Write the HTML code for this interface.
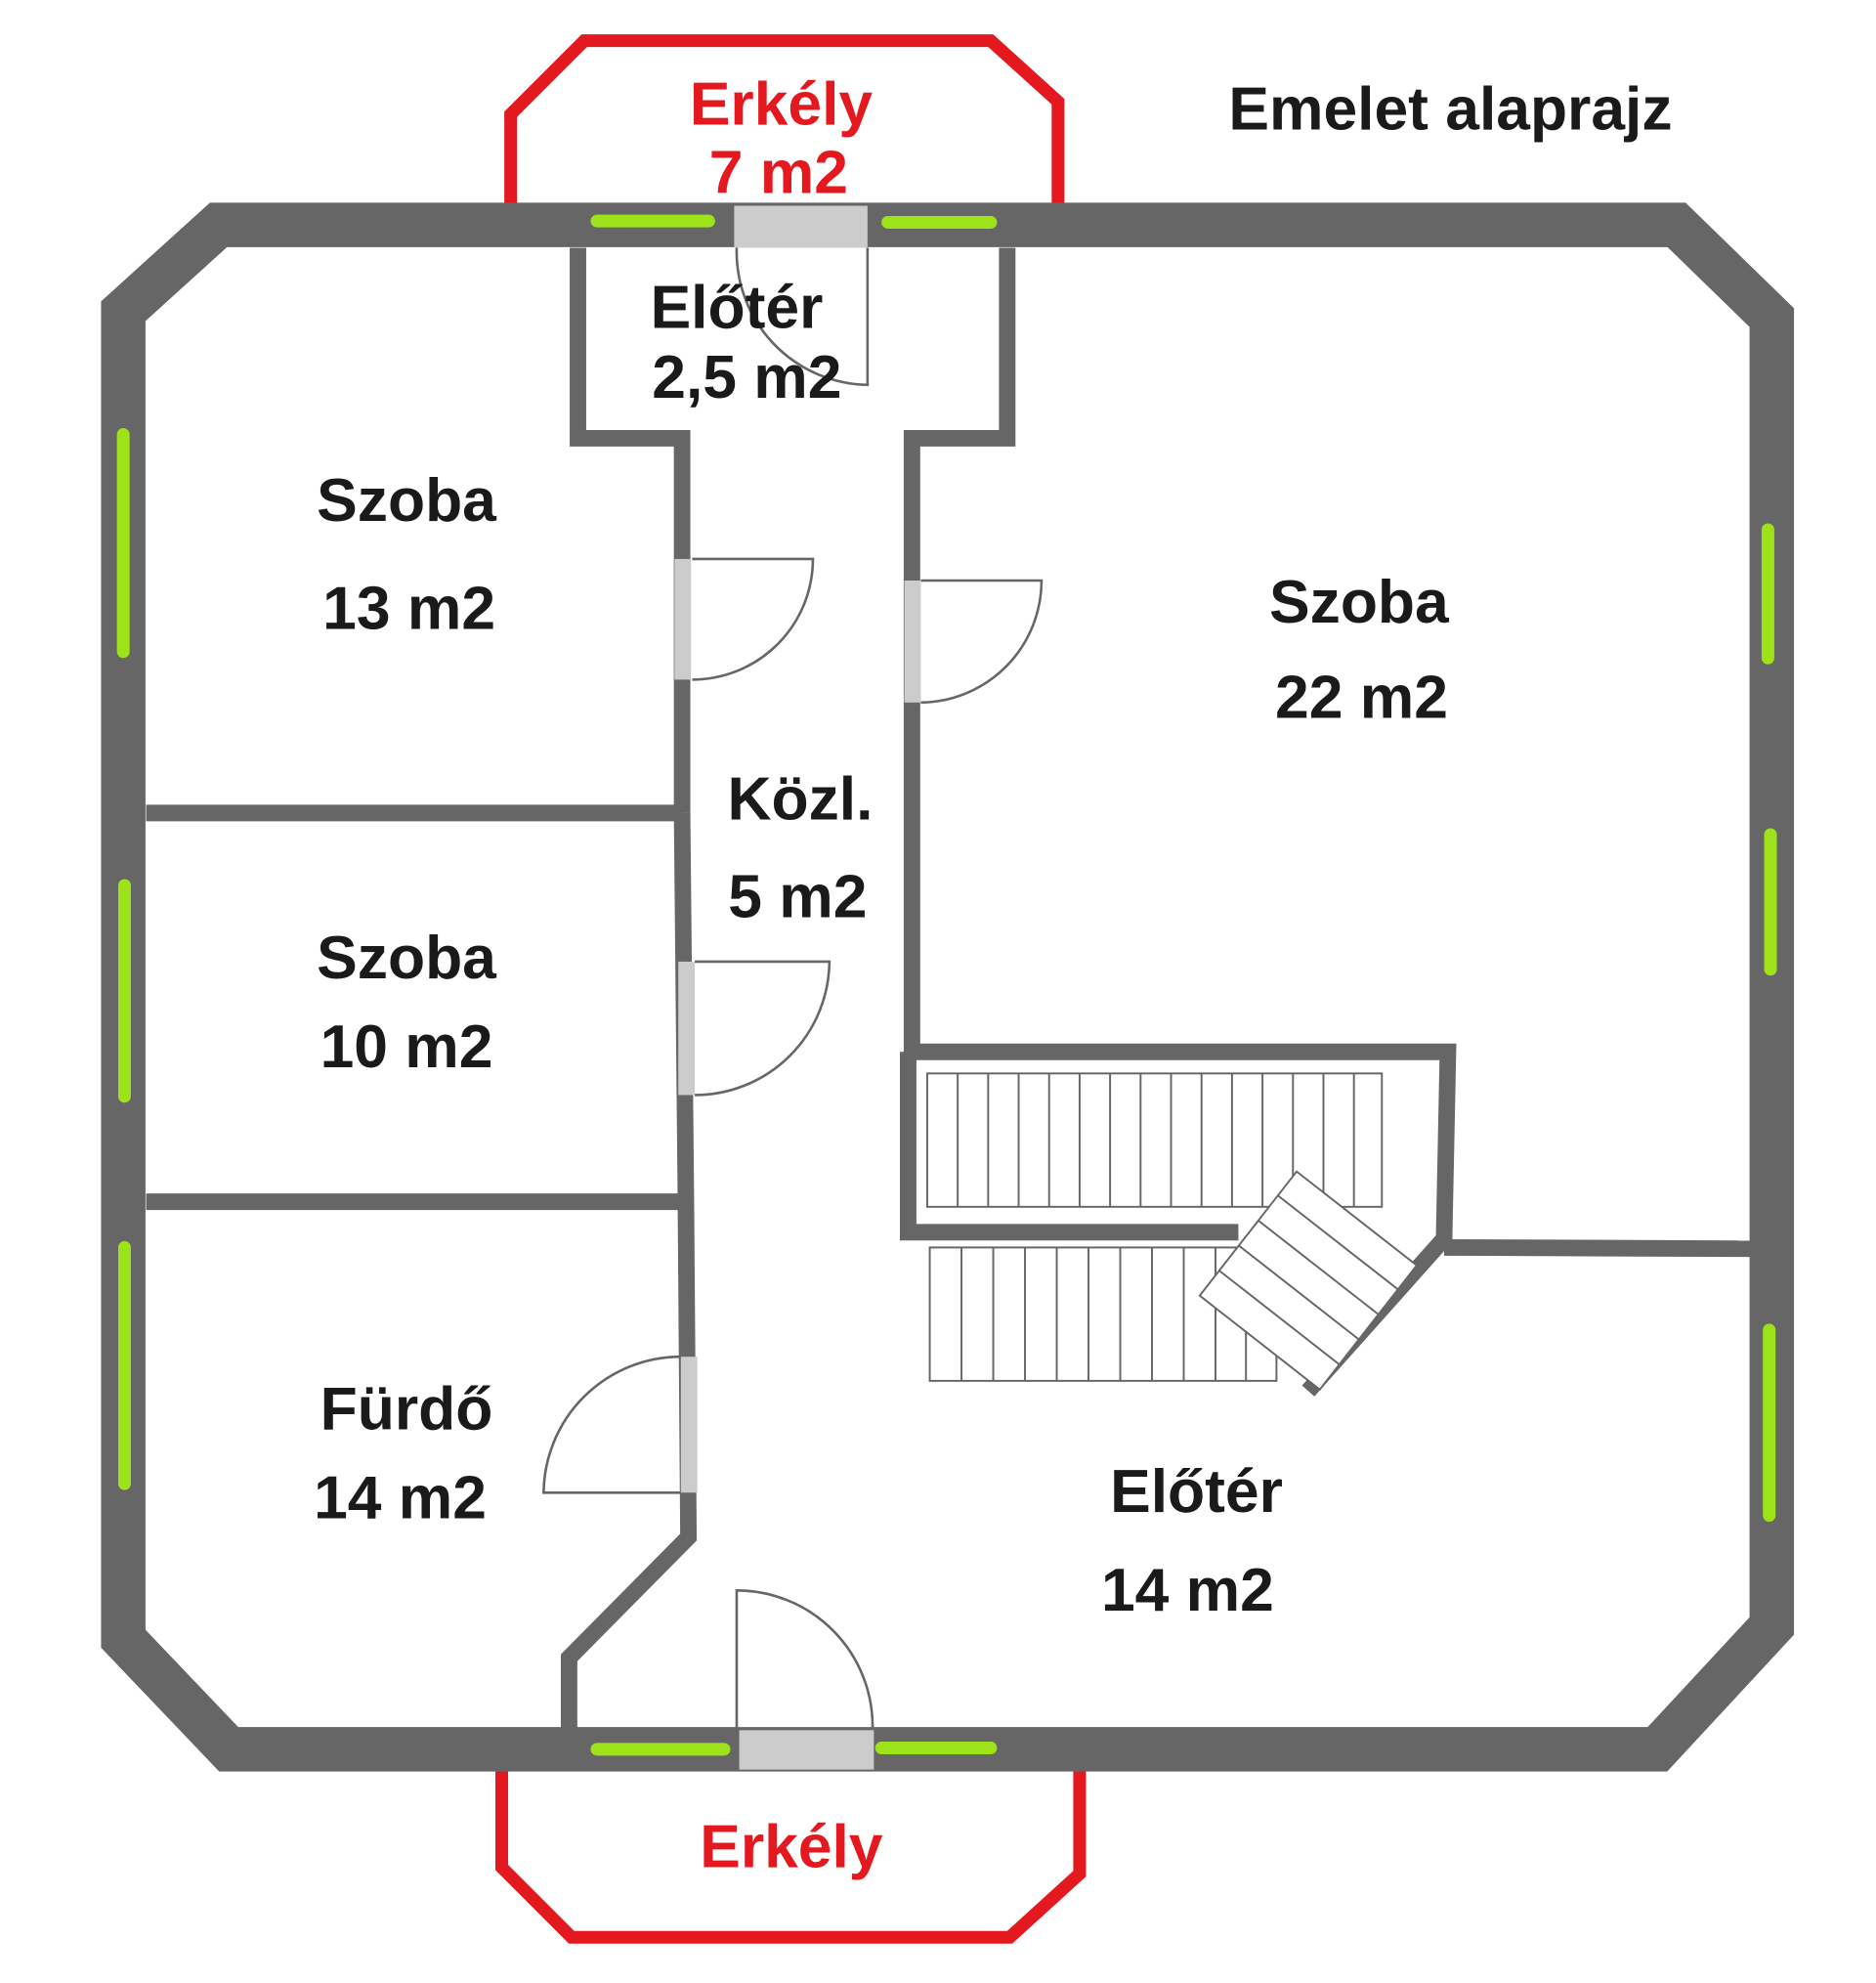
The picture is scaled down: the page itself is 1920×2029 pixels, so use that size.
<!DOCTYPE html>
<html><head><meta charset="utf-8"><style>
html,body{margin:0;padding:0;background:#fff;}
svg{display:block;}
text{font-family:"Liberation Sans","DejaVu Sans",sans-serif;font-weight:bold;}
</style></head><body>
<svg width="1920" height="2029" viewBox="0 0 1477 1561" xmlns="http://www.w3.org/2000/svg">
<rect width="1477" height="1561" fill="#fff"/>
<g fill="none" stroke="#e3191f" stroke-width="10" stroke-linejoin="miter">
<polyline points="402,162 402,90 460,32 780,32 833,80 833,162"/>
<polyline points="395,1393 395,1470 450,1525 795,1525 850,1475 850,1393"/>
</g>
<polygon points="172,177 1320,177 1395,250 1395,1280 1305,1377 180,1377 97,1290 97,245" fill="none" stroke="#666" stroke-width="35" stroke-linejoin="miter"/>
<rect x="578" y="162" width="105" height="33" fill="#ccc"/>
<rect x="582" y="1362" width="106" height="31" fill="#ccc"/>
<g stroke="#9ee31a" stroke-width="10" stroke-linecap="round">
<line x1="470" y1="174" x2="558" y2="174"/><line x1="699" y1="175" x2="780" y2="175"/>
<line x1="470" y1="1377" x2="570" y2="1377"/><line x1="694" y1="1376" x2="780" y2="1376"/>
<line x1="97" y1="342" x2="97" y2="513"/><line x1="98" y1="697" x2="98" y2="863"/><line x1="98" y1="982" x2="98" y2="1168"/>
<line x1="1392" y1="417" x2="1392" y2="518"/><line x1="1394" y1="657" x2="1394" y2="763"/><line x1="1393" y1="1047" x2="1393" y2="1193"/>
</g>
<g fill="none" stroke="#666" stroke-width="13" stroke-linejoin="miter">
<polyline points="455,195 455,345 537,345 537,640"/>
<polyline points="537,640 540,946 542,1210 448,1305 448,1362"/>
<polyline points="793,195 793,345 718,345 718,828 1140,828 1137,975 1030,1095"/>
<polyline points="715,828 715,970 975,970"/>
<line x1="1137" y1="982" x2="1378" y2="983"/>
<line x1="115" y1="640" x2="537" y2="640"/>
<line x1="115" y1="946" x2="540" y2="946"/>
</g>
<g fill="#ccc">
<rect x="531" y="440" width="13" height="95"/>
<rect x="712" y="457" width="13" height="96"/>
<rect x="534" y="757" width="13" height="105"/>
<rect x="536" y="1068" width="13" height="107"/>
</g>
<g fill="none" stroke="#666" stroke-width="2">
<path d="M545,440 L640,440 A95,95 0 0 1 545,535"/>
<path d="M725,457 L820,457 A96,96 0 0 1 725,553"/>
<path d="M547,757 L653,757 A106,106 0 0 1 547,862"/>
<path d="M536,1175 L428,1175 A108,108 0 0 1 536,1068"/>
<path d="M683,195 L683,303 A105,105 0 0 1 580,195"/>
<path d="M580,1362 L580,1252 A107,107 0 0 1 687,1360"/>
</g>
<g fill="#fff" stroke="#666" stroke-width="1.5">
<rect x="730" y="845" width="358" height="105"/>
<rect x="732" y="982" width="273" height="105"/>
</g>
<g stroke="#666" stroke-width="1.5">
<line x1="754" y1="845" x2="754" y2="950"/><line x1="778" y1="845" x2="778" y2="950"/><line x1="802" y1="845" x2="802" y2="950"/><line x1="826" y1="845" x2="826" y2="950"/><line x1="850" y1="845" x2="850" y2="950"/><line x1="874" y1="845" x2="874" y2="950"/><line x1="898" y1="845" x2="898" y2="950"/><line x1="922" y1="845" x2="922" y2="950"/><line x1="946" y1="845" x2="946" y2="950"/><line x1="970" y1="845" x2="970" y2="950"/><line x1="994" y1="845" x2="994" y2="950"/><line x1="1018" y1="845" x2="1018" y2="950"/><line x1="1042" y1="845" x2="1042" y2="950"/><line x1="1066" y1="845" x2="1066" y2="950"/>
<line x1="757" y1="982" x2="757" y2="1087"/><line x1="782" y1="982" x2="782" y2="1087"/><line x1="807" y1="982" x2="807" y2="1087"/><line x1="832" y1="982" x2="832" y2="1087"/><line x1="857" y1="982" x2="857" y2="1087"/><line x1="882" y1="982" x2="882" y2="1087"/><line x1="907" y1="982" x2="907" y2="1087"/><line x1="932" y1="982" x2="932" y2="1087"/><line x1="957" y1="982" x2="957" y2="1087"/><line x1="981" y1="982" x2="981" y2="1087"/>
</g>
<g transform="translate(1030,1008) rotate(38)">
<rect x="-60" y="-62" width="120" height="124" fill="#fff" stroke="#666" stroke-width="1.5"/>
<g stroke="#666" stroke-width="1.5">
<line x1="-60" y1="-38" x2="60" y2="-38"/><line x1="-60" y1="-13" x2="60" y2="-13"/><line x1="-60" y1="12" x2="60" y2="12"/><line x1="-60" y1="37" x2="60" y2="37"/>
</g></g>
<g font-size="48" fill="#1a1a1a" text-anchor="middle">
<text x="1142" y="102" font-size="48">Emelet alaprajz</text>
<text x="580" y="258">Előtér</text><text x="588" y="313">2,5 m2</text>
<text x="320" y="410">Szoba</text><text x="322" y="495">13 m2</text>
<text x="1070" y="490">Szoba</text><text x="1072" y="565">22 m2</text>
<text x="630" y="645">Közl.</text><text x="628" y="722">5 m2</text>
<text x="320" y="770">Szoba</text><text x="320" y="840">10 m2</text>
<text x="320" y="1125">Fürdő</text><text x="315" y="1195">14 m2</text>
<text x="942" y="1190">Előtér</text><text x="935" y="1268">14 m2</text>
</g>
<g font-size="48" fill="#e3191f" text-anchor="middle">
<text x="615" y="98">Erkély</text><text x="613" y="152">7 m2</text>
<text x="623" y="1470">Erkély</text>
</g>
</svg>
</body></html>
